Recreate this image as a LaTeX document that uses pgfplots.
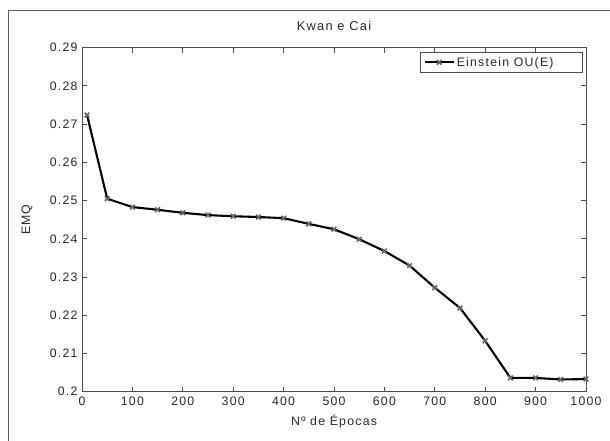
\documentclass[border=0pt]{standalone}
\usepackage{fontspec}
\setmainfont{Liberation Sans}[LetterSpace=10]
\usepackage{pgfplots}
\pgfplotsset{compat=1.18}
\newcommand\ff{\fontsize{12.3}{14.7}\selectfont}
\newcommand\ft{\fontsize{12.8}{15.3}\selectfont}
\begin{document}
\begin{tikzpicture}
\useasboundingbox (0pt,0pt) rectangle (610pt,441pt);
\draw[black!65, line width=0.9pt] (8.7pt,-20pt) rectangle (660pt,431pt);
\begin{axis}[
  at={(82pt,49.3pt)}, anchor=south west,
  scale only axis,
  width=504pt, height=344pt,
  xmin=0, xmax=1000,
  ymin=0.2, ymax=0.29,
  xtick={0,100,200,300,400,500,600,700,800,900,1000},
  ytick={0.2,0.21,0.22,0.23,0.24,0.25,0.26,0.27,0.28,0.29},
  tick align=inside,
  major tick length=5pt,
  axis line style={draw=black!70, line width=0.9pt},
  every tick/.style={draw=black!70, line width=0.9pt},
  /pgf/number format/assume math mode=true,
  /pgf/number format/1000 sep={},
  yticklabel style={/pgf/number format/fixed, /pgf/number format/precision=2, xshift=-1pt},
  xticklabel style={yshift=-1.5pt},
  tick label style={font=\ff, text=black!85},
  title={Kwan e Cai},
  title style={at={(0.5,1)}, anchor=center, yshift=16pt, font=\ft, text=black!85},
  xlabel={Nº de Épocas},
  xlabel style={at={(0.5,0)}, anchor=center, yshift=-30pt, font=\ff, text=black!85},
  ylabel={EMQ},
  ylabel style={at={(0,0.5)}, anchor=center, yshift=55pt, font=\ff, text=black!85},
  legend style={at={(1,1)}, anchor=north east, xshift=-3pt, yshift=-4.5pt,
    draw=black!70, line width=0.9pt, font=\ff, text=black!85,
    inner ysep=2.5pt, inner xsep=3pt, cells={anchor=west}},
  legend image code/.code={\draw[mark repeat=2, mark phase=2] plot coordinates {(0pt,0pt) (14.5pt,0pt) (29pt,0pt)};},
]
\addplot[black, line width=2.1pt, mark=x, mark size=3.3pt,
  mark options={draw=black!60, line width=1.6pt}] coordinates {
(10,0.2724) (50,0.2505) (100,0.2483) (150,0.2476) (200,0.2468)
(250,0.2462) (300,0.2459) (350,0.2457) (400,0.2454) (450,0.2439)
(500,0.2425) (550,0.2399) (600,0.2368) (650,0.2330) (700,0.2272)
(750,0.2219) (800,0.2133) (850,0.2036) (900,0.2036) (950,0.2032)
(1000,0.2033)};
\addlegendentry{Einstein OU(E)\hspace*{24pt}}
\end{axis}
\end{tikzpicture}
\end{document}
